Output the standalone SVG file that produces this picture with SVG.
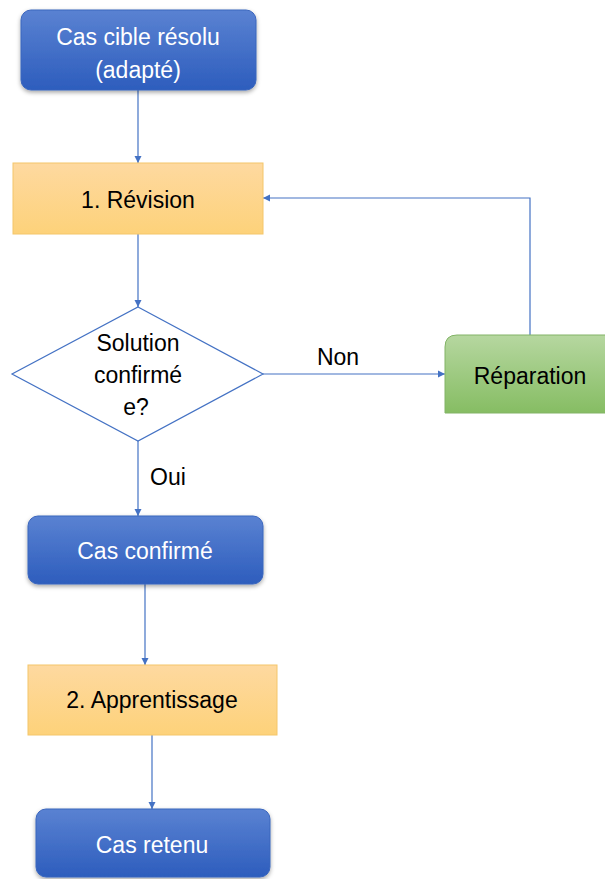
<svg xmlns="http://www.w3.org/2000/svg" width="605" height="879" viewBox="0 0 605 879">
<style>
.t{font-family:"Liberation Sans","Open Sans",Arial,sans-serif;font-size:23px;text-anchor:middle;dominant-baseline:central}
.w{fill:#ffffff}
.k{fill:#000000}
.blue{fill:url(#gb);stroke:#3a66bd;stroke-width:1;filter:url(#sh)}
.yel{fill:url(#gy);stroke:#f4c66a;stroke-width:1}
.grn{fill:url(#gg);stroke:#82b366;stroke-width:1}
.c{fill:none;stroke:#4472c4;stroke-width:1.2}
</style>
<defs>
<linearGradient id="gb" x1="0" y1="0" x2="0" y2="1"><stop offset="0" stop-color="#5a82d2"/><stop offset="1" stop-color="#2d5dbd"/></linearGradient>
<linearGradient id="gy" x1="0" y1="0" x2="0" y2="1"><stop offset="0" stop-color="#fed9a0"/><stop offset="1" stop-color="#fdd27a"/></linearGradient>
<linearGradient id="gg" x1="0" y1="0" x2="0" y2="1"><stop offset="0" stop-color="#b6d7a0"/><stop offset="1" stop-color="#86bd63"/></linearGradient>
<filter id="sh" x="-10%" y="-10%" width="120%" height="130%"><feDropShadow dx="0" dy="2" stdDeviation="2" flood-color="#000" flood-opacity="0.35"/></filter>
<marker id="ar" markerWidth="8" markerHeight="8" refX="7" refY="4" orient="auto" markerUnits="userSpaceOnUse"><path d="M0,0.5 L7,4 L0,7.5 Z" fill="#4472c4"/></marker>
</defs>
<g id="connectors">
<line class="c" x1="138" y1="90" x2="138" y2="163" marker-end="url(#ar)"/>
<line class="c" x1="138" y1="234" x2="138" y2="307" marker-end="url(#ar)"/>
<line class="c" x1="263" y1="374" x2="445" y2="374" marker-end="url(#ar)"/>
<polyline class="c" points="530,335 530,198 263,198" marker-end="url(#ar)"/>
<line class="c" x1="138" y1="441" x2="138" y2="516" marker-end="url(#ar)"/>
<line class="c" x1="145" y1="584" x2="145" y2="665" marker-end="url(#ar)"/>
<line class="c" x1="152" y1="735" x2="152" y2="809" marker-end="url(#ar)"/>
<text class="t k" x="338" y="357">Non</text>
<text class="t k" x="168" y="477">Oui</text>
</g>
<g id="n1">
<rect class="blue" x="21" y="10" width="235" height="80" rx="10"/>
<text class="t w" x="138" y="37">Cas cible résolu</text>
<text class="t w" x="138" y="70">(adapté)</text>
</g>
<g id="n2">
<rect class="yel" x="13" y="163" width="250" height="71"/>
<text class="t k" x="138" y="200">1. Révision</text>
</g>
<g id="n3">
<polygon points="138,307 263,374 138,441 12,374" fill="#ffffff" stroke="#4472c4" stroke-width="1.2"/>
<text class="t k" x="138" y="343">Solution</text>
<text class="t k" x="138" y="375">confirmé</text>
<text class="t k" x="136" y="407">e?</text>
</g>
<g id="n4">
<path class="grn" d="M445,347 Q445,335 457,335 L606,335 L606,413 L445,413 Z"/>
<text class="t k" x="530" y="376">Réparation</text>
</g>
<g id="n5">
<rect class="blue" x="28" y="516" width="235" height="68" rx="10"/>
<text class="t w" x="145" y="551">Cas confirmé</text>
</g>
<g id="n6">
<rect class="yel" x="28" y="665" width="249" height="70"/>
<text class="t k" x="152" y="700">2. Apprentissage</text>
</g>
<g id="n7">
<rect class="blue" x="36" y="809" width="234" height="68" rx="10"/>
<text class="t w" x="152" y="845">Cas retenu</text>
</g>
</svg>
